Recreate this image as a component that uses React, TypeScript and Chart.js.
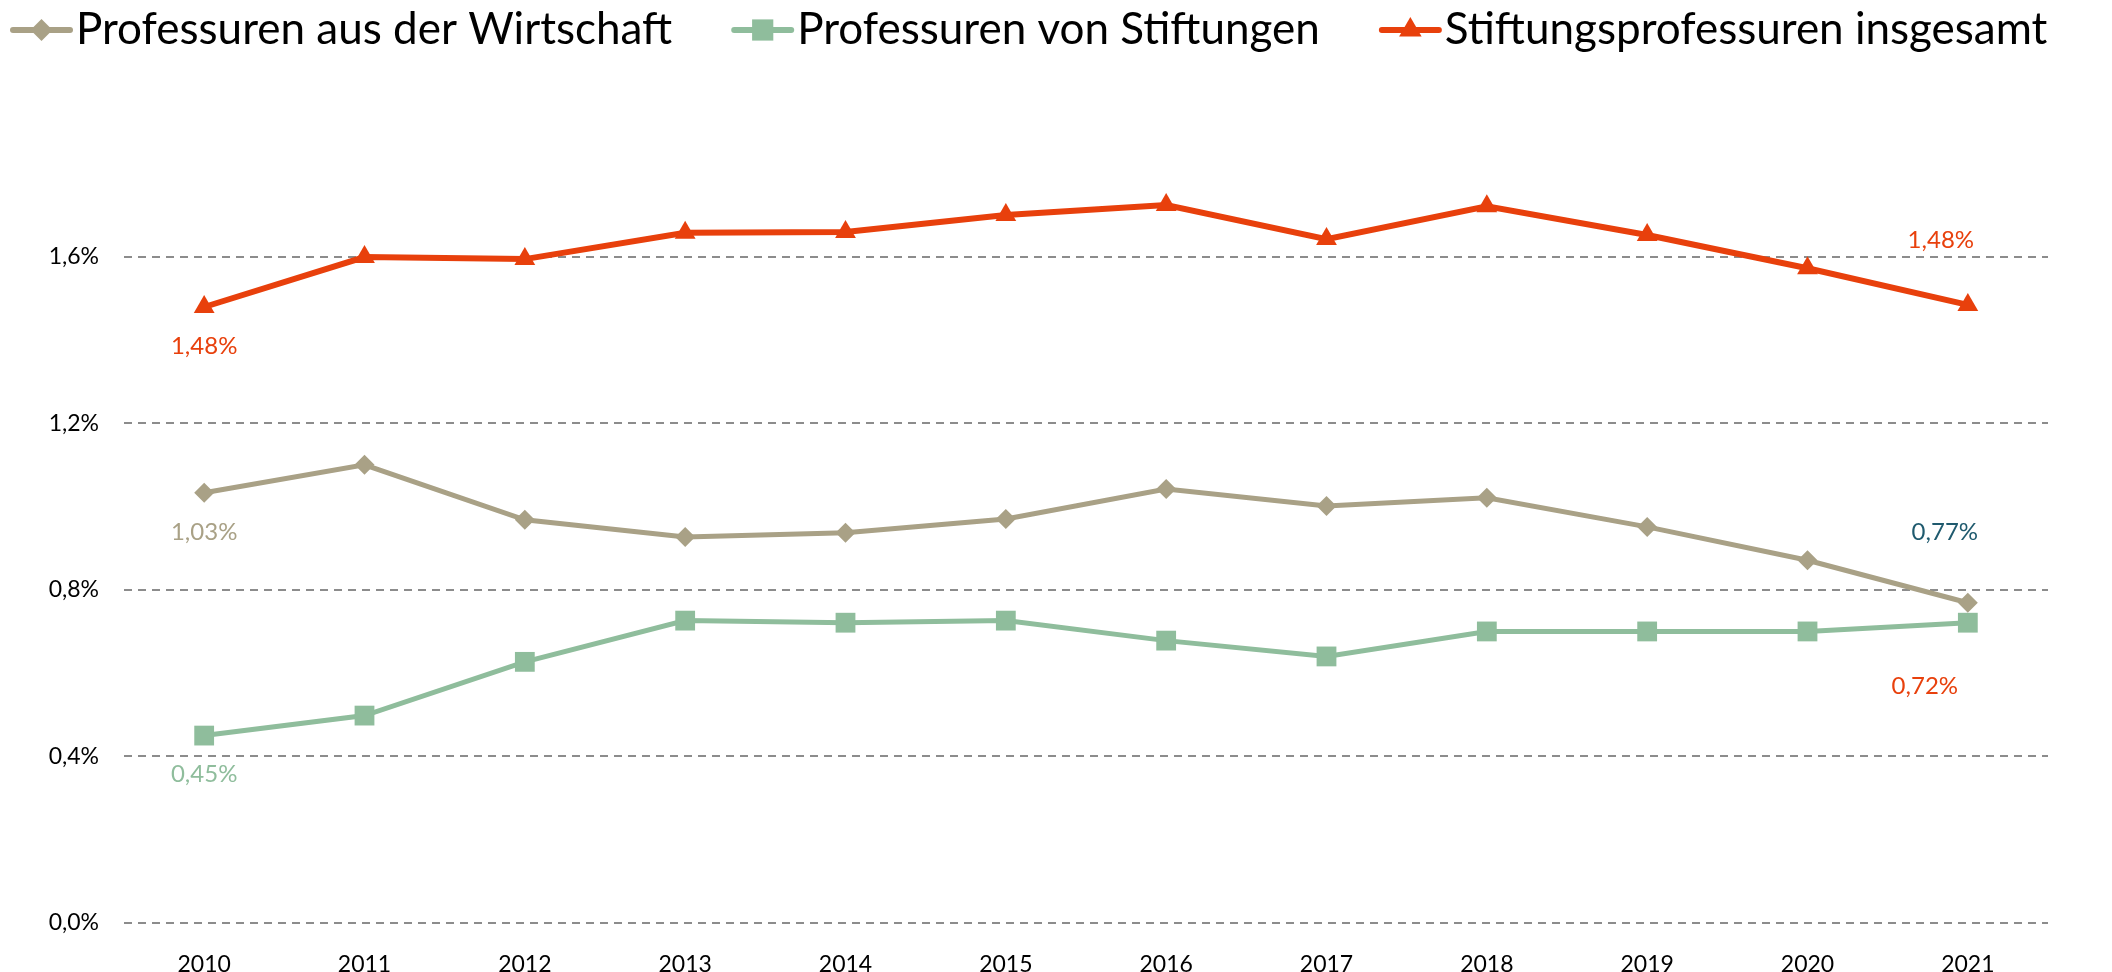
import React, { useEffect, useRef } from 'react';
import { Chart, registerables } from 'chart.js';
import { drawPoint } from 'chart.js/helpers';

Chart.register(...registerables);

// ---- data ----
const years = ['2010', '2011', '2012', '2013', '2014', '2015', '2016', '2017', '2018', '2019', '2020', '2021'];
const wirtschaft = [1.033, 1.1, 0.968, 0.927, 0.937, 0.97, 1.042, 1.001, 1.021, 0.951, 0.871, 0.769];
const stiftungen = [0.45, 0.498, 0.627, 0.726, 0.721, 0.726, 0.678, 0.64, 0.7, 0.7, 0.7, 0.721];
const insgesamt = [1.479, 1.599, 1.594, 1.657, 1.659, 1.7, 1.724, 1.642, 1.721, 1.652, 1.572, 1.484];
const yTickValues = [0, 0.4, 0.8, 1.2, 1.6];
const seriesNames = ['Professuren aus der Wirtschaft', 'Professuren von Stiftungen', 'Stiftungsprofessuren insgesamt'];

// ---- styles ----
const COLOR_GRAY = '#a9a186';
const COLOR_GREEN = '#8fbd9c';
const COLOR_RED = '#e8400c';
const COLOR_TEAL = '#1f5a6e';
const FONT = 'Lato';

// which points carry a value label (series index, point index, colour, offset from point)
const valueLabels = [
  { series: 2, index: 0, color: COLOR_RED, dx: 0, dy: 39 },
  { series: 0, index: 0, color: COLOR_GRAY, dx: 0, dy: 40 },
  { series: 1, index: 0, color: COLOR_GREEN, dx: 0, dy: 39 },
  { series: 2, index: 11, color: COLOR_RED, dx: -27, dy: -65 },
  { series: 0, index: 11, color: COLOR_TEAL, dx: -23, dy: -70 },
  { series: 1, index: 11, color: COLOR_RED, dx: -43, dy: 64 },
];

const fmt = (v: number, digits: number) => v.toFixed(digits).replace('.', ',') + '%';

const valueLabelPlugin = {
  id: 'valueLabels',
  afterDatasetsDraw(chart: any) {
    const ctx = chart.ctx;
    ctx.save();
    ctx.font = `24px ${FONT}`;
    ctx.textAlign = 'center';
    ctx.textBaseline = 'middle';
    valueLabels.forEach((l) => {
      const el = chart.getDatasetMeta(l.series).data[l.index];
      const v = chart.data.datasets[l.series].data[l.index] as number;
      ctx.fillStyle = l.color;
      ctx.fillText(fmt(v, 2), el.x + l.dx, el.y + l.dy);
    });
    ctx.restore();
  },
};

const legendPlugin = {
  id: 'lineLegend',
  afterDraw(chart: any) {
    const ctx = chart.ctx;
    const fontSize = 44;
    const lineLen = 57;
    const textGap = 63;
    const itemGap = 62;
    const cy = 30;
    const baseline = 44;
    ctx.save();
    ctx.font = `${fontSize}px ${FONT}`;
    ctx.textBaseline = 'alphabetic';
    ctx.textAlign = 'left';
    let x = 13;
    chart.data.datasets.forEach((ds: any) => {
      ctx.strokeStyle = ds.borderColor;
      ctx.lineWidth = 6;
      ctx.lineCap = 'round';
      ctx.beginPath();
      ctx.moveTo(x, cy);
      ctx.lineTo(x + lineLen, cy);
      ctx.stroke();
      ctx.fillStyle = ds.borderColor;
      drawPoint(ctx, { pointStyle: ds.pointStyle, radius: ds.pointRadius + 1, rotation: 0, borderWidth: 0 } as any, x + lineLen / 2, cy);
      ctx.fillStyle = '#000';
      ctx.fillText(ds.label, x + textGap, baseline);
      x += textGap + ctx.measureText(ds.label).width + itemGap;
    });
    ctx.restore();
  },
};

export default function App() {
  const ref = useRef<HTMLCanvasElement | null>(null);

  useEffect(() => {
    if (!ref.current) return;
    const chart = new Chart(ref.current, {
      type: 'line',
      data: {
        labels: years,
        datasets: [
          {
            label: seriesNames[0],
            data: wirtschaft,
            borderColor: COLOR_GRAY,
            backgroundColor: COLOR_GRAY,
            borderWidth: 5,
            pointStyle: 'rectRot',
            pointRadius: 10,
            pointBorderWidth: 0,
            pointHoverRadius: 10,
            tension: 0,
          },
          {
            label: seriesNames[1],
            data: stiftungen,
            borderColor: COLOR_GREEN,
            backgroundColor: COLOR_GREEN,
            borderWidth: 5,
            pointStyle: 'rect',
            pointRadius: 14,
            pointBorderWidth: 0,
            pointHoverRadius: 14,
            tension: 0,
          },
          {
            label: seriesNames[2],
            data: insgesamt,
            borderColor: COLOR_RED,
            backgroundColor: COLOR_RED,
            borderWidth: 6,
            pointStyle: 'triangle',
            pointRadius: 12,
            pointBorderWidth: 0,
            pointHoverRadius: 12,
            tension: 0,
          },
        ],
      },
      options: {
        animation: false,
        responsive: false,
        maintainAspectRatio: false,
        layout: { padding: { top: 90, right: 64, left: 0, bottom: 0 } },
        plugins: {
          legend: { display: false },
          tooltip: { enabled: false },
        },
        scales: {
          x: {
            offset: true,
            grid: { display: false },
            border: { display: false },
            ticks: { color: '#000', font: { family: FONT, size: 23 }, padding: 20, maxRotation: 0 },
            afterFit: (s: any) => { s.height = 49; },
          },
          y: {
            min: 0,
            max: 2.0,
            grid: { color: '#8c8c8c', lineWidth: 2, drawTicks: false },
            border: { display: false, dash: [8, 6] },
            ticks: {
              color: '#000',
              font: { family: FONT, size: 23 },
              padding: 25,
              callback: (v: any) => fmt(Number(v), 1),
            },
            afterBuildTicks: (s: any) => { s.ticks = yTickValues.map((v) => ({ value: v })); },
            afterFit: (s: any) => { s.width = 124; },
          },
        },
      },
      plugins: [valueLabelPlugin, legendPlugin],
    });
    return () => chart.destroy();
  }, []);

  return (
    <div style={{ position: 'absolute', left: 0, top: 0, width: 2112, height: 972, background: '#fff' }}>
      <canvas ref={ref} width={2112} height={972} style={{ display: 'block' }} />
    </div>
  );
}
